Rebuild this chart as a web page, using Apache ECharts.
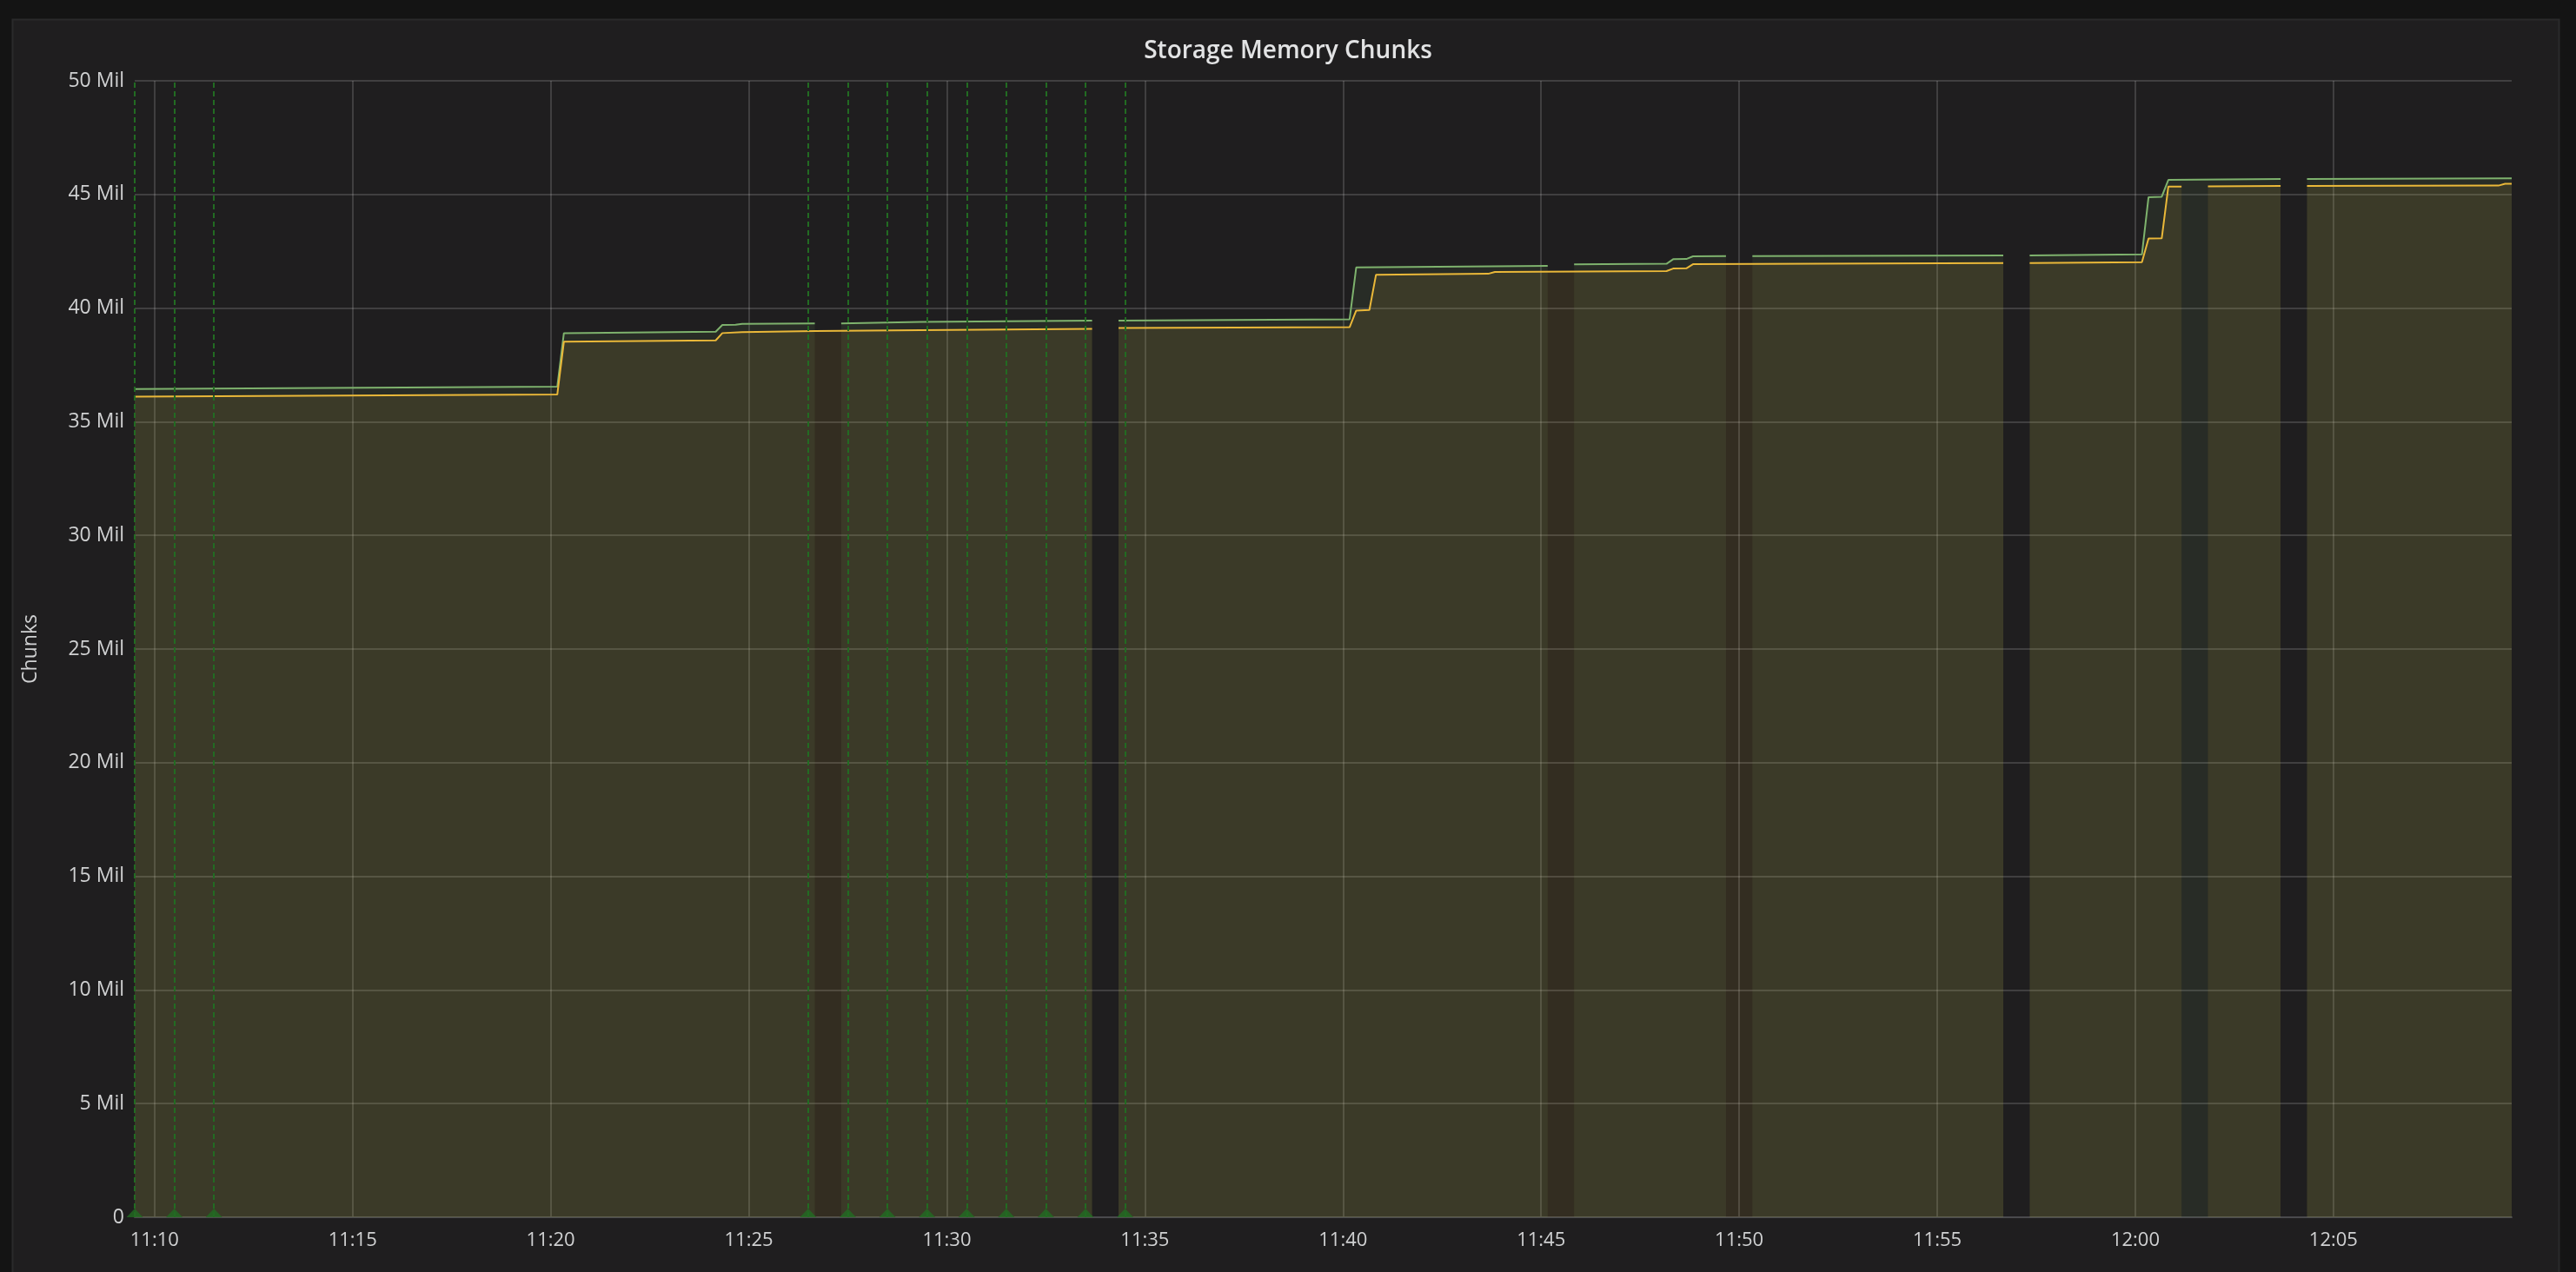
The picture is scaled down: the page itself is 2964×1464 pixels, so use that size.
<!DOCTYPE html>
<html>
<head>
<meta charset="utf-8">
<script src="https://cdn.jsdelivr.net/npm/echarts@6/dist/echarts.min.js"></script>
<style>
  html, body { margin: 0; padding: 0; background: #141414; }
  #chart { width: 2964px; height: 1464px; }
</style>
</head>
<body>
<div id="chart"></div>
<script>
// ---- Data (values in millions of chunks; null = no data) ----
const DAY = '2024-01-01 ';
const axisStart = '11:09:30';
const axisEnd = '12:09:30';

const xTickLabels = [
  '11:10', '11:15', '11:20', '11:25', '11:30', '11:35',
  '11:40', '11:45', '11:50', '11:55', '12:00', '12:05'
];
const yTicksMil = [0, 5, 10, 15, 20, 25, 30, 35, 40, 45, 50];

const seriesNames = ['chunks_a', 'chunks_b'];

const greenTimes = [
  '11:09:30', '11:20:10', '11:20:20', '11:24:10', '11:24:20', '11:24:40', '11:24:50',
  '11:26:40', '11:27:00', '11:27:20', '11:29:20', '11:33:40', '11:34:00', '11:34:20',
  '11:40:10', '11:40:20', '11:45:10', '11:45:30', '11:45:50', '11:48:10', '11:48:20',
  '11:48:40', '11:48:50', '11:49:40', '11:50:00', '11:50:20', '11:56:40', '11:57:00',
  '11:57:20', '12:00:10', '12:00:20', '12:00:40', '12:00:50', '12:03:40', '12:04:00',
  '12:04:20', '12:09:30'
];
const greenValues = [
  36.44, 36.54, 38.90, 38.96, 39.26, 39.27, 39.31,
  39.33, null, 39.33, 39.39, 39.45, null, 39.45,
  39.51, 41.79, 41.86, null, 41.92, 41.95, 42.15,
  42.16, 42.28, 42.29, null, 42.29, 42.32, null,
  42.32, 42.36, 44.88, 44.90, 45.64, 45.68, null,
  45.68, 45.71
];

const yellowTimes = [
  '11:09:30', '11:20:10', '11:20:20', '11:24:10', '11:24:20', '11:24:50', '11:26:40',
  '11:29:20', '11:33:40', '11:34:00', '11:34:20', '11:40:10', '11:40:20', '11:40:40',
  '11:40:50', '11:43:40', '11:43:50', '11:48:10', '11:48:20', '11:48:40', '11:48:50',
  '11:56:40', '11:57:00', '11:57:20', '12:00:10', '12:00:20', '12:00:40', '12:00:50',
  '12:01:10', '12:01:30', '12:01:50', '12:03:40', '12:04:00', '12:04:20', '12:09:10',
  '12:09:20', '12:09:30'
];
const yellowValues = [
  36.10, 36.20, 38.52, 38.58, 38.90, 38.94, 38.99,
  39.03, 39.09, null, 39.12, 39.16, 39.89, 39.92,
  41.47, 41.51, 41.59, 41.63, 41.74, 41.75, 41.93,
  41.98, null, 41.98, 42.02, 43.06, 43.07, 45.35,
  45.35, null, 45.36, 45.37, null, 45.37, 45.39,
  45.47, 45.47
];

const annotationTimes = [
  '11:09:30', '11:10:30', '11:11:30',
  '11:26:30', '11:27:30', '11:28:30', '11:29:30', '11:30:30',
  '11:31:30', '11:32:30', '11:33:30', '11:34:30'
];

// ---- Build ----
const ts = t => echarts.number.parseDate(DAY + t).getTime();
const toPairs = (times, vals) => times.map((t, i) => [ts(t), vals[i] === null ? '-' : vals[i]]);
const xTickValues = xTickLabels.map(t => ts(t + ':00'));
const labelFor = v => {
  const i = xTickValues.indexOf(v);
  return i >= 0 ? xTickLabels[i] : '';
};

const GREEN = '#7eb26d';
const YELLOW = '#eab839';
const ANNO = '#226b22';
const TEXT = '#d0d1d2';
const GRID = 'rgba(255,255,255,0.15)';

const chart = echarts.init(document.getElementById('chart'), null, { renderer: 'canvas' });

chart.setOption({
  animation: false,
  backgroundColor: '#141414',
  textStyle: { fontFamily: 'Open Sans' },
  graphic: [{
    type: 'rect',
    z: -10,
    silent: true,
    shape: { x: 14.5, y: 22.5, width: 2930, height: 1460 },
    style: { fill: '#1f1e1f', stroke: '#2a2a2b', lineWidth: 2 }
  }],
  title: {
    text: 'Storage Memory Chunks',
    left: 'center',
    top: 40,
    textStyle: { color: '#e2e3e4', fontFamily: 'Open Sans', fontWeight: 600, fontSize: 28 }
  },
  grid: { left: 155, right: 74, top: 93, bottom: 63, containLabel: false },
  xAxis: {
    type: 'value',
    min: ts(axisStart),
    max: ts(axisEnd),
    scale: true,
    axisLine: { show: true, onZero: false, lineStyle: { color: '#4a4a4d', width: 2 } },
    axisTick: { show: false, customValues: xTickValues },
    axisLabel: {
      color: TEXT, fontSize: 22, fontFamily: 'Open Sans', margin: 16,
      customValues: xTickValues,
      formatter: labelFor,
      showMinLabel: true, showMaxLabel: true
    },
    splitLine: { show: true, lineStyle: { color: GRID, width: 2 } }
  },
  yAxis: {
    type: 'value',
    min: yTicksMil[0],
    max: yTicksMil[yTicksMil.length - 1],
    interval: 5,
    name: 'Chunks',
    nameLocation: 'middle',
    nameGap: 108,
    nameRotate: 90,
    nameTextStyle: { color: TEXT, fontSize: 23, fontFamily: 'Open Sans' },
    axisLine: { show: false },
    axisTick: { show: false },
    axisLabel: {
      color: TEXT, fontSize: 23, fontFamily: 'Open Sans', margin: 12,
      formatter: v => (v === 0 ? '0' : v + ' Mil')
    },
    splitLine: { show: true, lineStyle: { color: GRID, width: 2 } }
  },
  series: [
    {
      name: seriesNames[0],
      type: 'line',
      data: toPairs(greenTimes, greenValues),
      showSymbol: false,
      connectNulls: false,
      lineStyle: { color: GREEN, width: 2 },
      itemStyle: { color: GREEN },
      areaStyle: { color: GREEN, opacity: 0.1 },
      markLine: {
        silent: true,
        symbol: 'none',
        animation: false,
        label: { show: false },
        lineStyle: { color: ANNO, type: [6, 4], width: 2 },
        data: annotationTimes.map(t => ({ xAxis: ts(t) }))
      }
    },
    {
      name: seriesNames[1],
      type: 'line',
      data: toPairs(yellowTimes, yellowValues),
      showSymbol: false,
      connectNulls: false,
      lineStyle: { color: YELLOW, width: 2 },
      itemStyle: { color: YELLOW },
      areaStyle: { color: YELLOW, opacity: 0.1 }
    },
    {
      name: 'annotations',
      type: 'scatter',
      silent: true,
      clip: false,
      symbol: 'triangle',
      symbolSize: [19, 10],
      symbolOffset: [0, -5],
      itemStyle: { color: ANNO },
      z: 5,
      data: annotationTimes.map(t => [ts(t), 0])
    }
  ]
});
</script>
</body>
</html>
